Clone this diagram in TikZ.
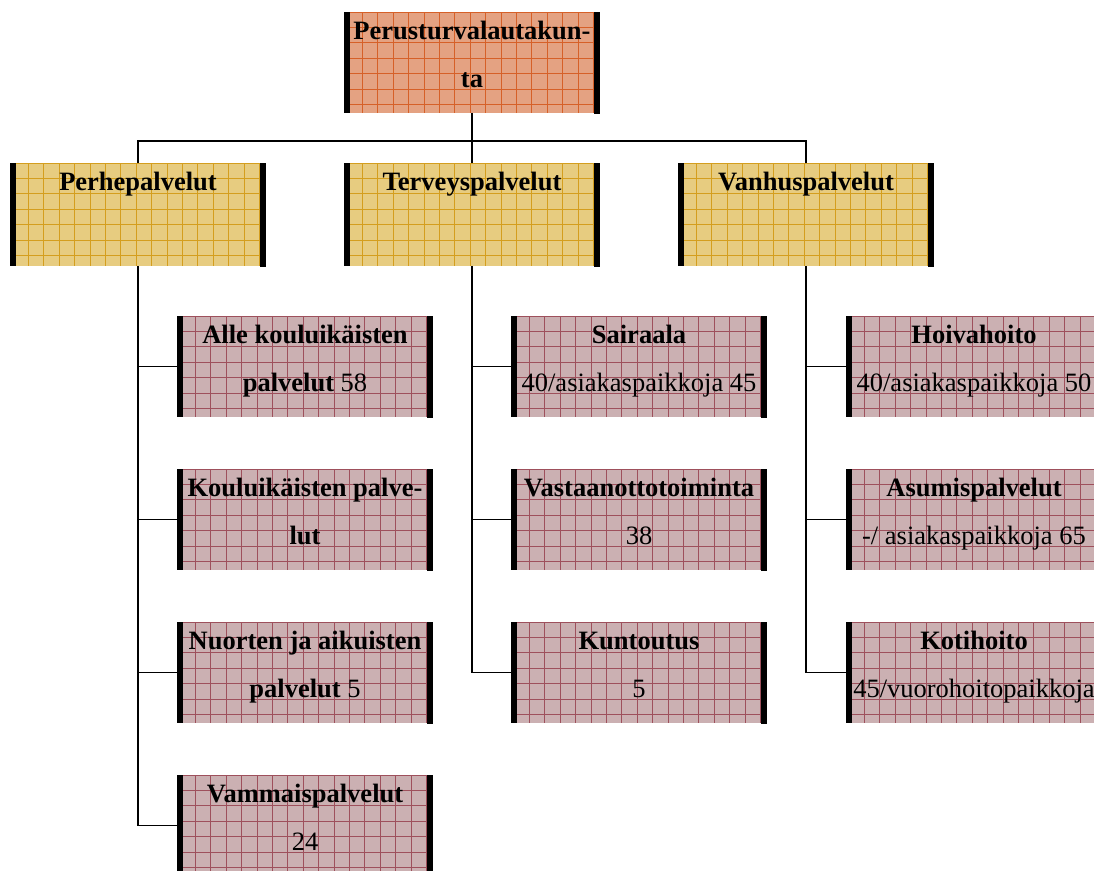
\documentclass[tikz,border=0pt]{standalone}
\usepackage{fontspec}
\setmainfont{Liberation Serif}
\usetikzlibrary{calc}

\definecolor{orgfill}{RGB}{228,162,130}
\definecolor{orgline}{RGB}{214,96,40}
\definecolor{yelfill}{RGB}{231,204,128}
\definecolor{yelline}{RGB}{212,158,30}
\definecolor{pinkfill}{RGB}{203,176,178}
\definecolor{pinkline}{RGB}{158,80,92}

\tikzset{
  % gridded box with heavy black side bars
  cell/.style 2 args={rectangle, draw=none, fill=#1,
    minimum width=256pt, minimum height=101pt, inner sep=0pt,
    path picture={
      \coordinate (nw) at (path picture bounding box.north west);
      \coordinate (sw) at (path picture bounding box.south west);
      \coordinate (ne) at (path picture bounding box.north east);
      \foreach \k in {0,...,16}
        \draw[#2, line width=0.7pt] ($(nw)+(3+\k*15.4,0)$) -- ($(sw)+(3+\k*15.4,0)$);
      \foreach \k in {0,...,7}
        \draw[#2, line width=0.7pt] ($(nw)+(0,\k*15.4)$) -- ($(ne)+(0,\k*15.4)$);
      \draw[black, line width=6pt] ($(nw)+(3,0)$) -- ($(sw)+(3,0)$)
                                   ($(ne)+(-3,0)$) -- ($(ne)+(-3,110)$);
    }},
  headbox/.style={cell={orgfill}{orgline}},
  unitbox/.style={cell={yelfill}{yelline}, minimum height=103pt},
  leafbox/.style={cell={pinkfill}{pinkline}},
  txt/.style={anchor=north, inner sep=0pt, align=center,
    font=\fontsize{26.5}{48}\selectfont},
  link/.style={draw=black, line width=1.8pt}
}

\newcommand{\topline}{\rule{0pt}{27pt}}

\begin{document}
\begin{tikzpicture}[x=1pt, y=-1pt]
\useasboundingbox (0,0) rectangle (1094,870);
\clip (0,0) rectangle (1094,870);

% top level
\node[headbox] (top) at (472,62.5) {};
\node[txt] (top-t) at (top.north) {\topline\textbf{Perusturvalautakun-}\\\textbf{ta}};

% service areas
\node[unitbox] (perhe) at (138,214.5) {};
\node[unitbox] (terveys) at (472,214.5) {};
\node[unitbox] (vanhus) at (806,214.5) {};
\node[txt] (perhe-t) at (perhe.north) {\topline\textbf{Perhepalvelut}};
\node[txt] (terveys-t) at (terveys.north) {\topline\textbf{Terveyspalvelut}};
\node[txt] (vanhus-t) at (vanhus.north) {\topline\textbf{Vanhuspalvelut}};

% family services
\node[leafbox] (alle) at (305,366.5) {};
\node[leafbox] (koulu) at (305,519.5) {};
\node[leafbox] (nuoret) at (305,672.5) {};
\node[leafbox] (vammais) at (305,825.5) {};
\node[txt] (alle-t) at (alle.north) {\topline\textbf{Alle kouluikäisten}\\\textbf{palvelut} 58};
\node[txt] (koulu-t) at (koulu.north) {\topline\textbf{Kouluikäisten palve-}\\\textbf{lut}};
\node[txt] (nuoret-t) at (nuoret.north) {\topline\textbf{Nuorten ja aikuisten}\\\textbf{palvelut} 5};
\node[txt] (vammais-t) at (vammais.north) {\topline\textbf{Vammaispalvelut}\\24};

% health services
\node[leafbox] (sairaala) at (639,366.5) {};
\node[leafbox] (vastaanotto) at (639,519.5) {};
\node[leafbox] (kuntoutus) at (639,672.5) {};
\node[txt] (sairaala-t) at (sairaala.north) {\topline\textbf{Sairaala}\\40/asiakaspaikkoja 45};
\node[txt] (vastaanotto-t) at (vastaanotto.north) {\topline\textbf{Vastaanottotoiminta}\\38};
\node[txt] (kuntoutus-t) at (kuntoutus.north) {\topline\textbf{Kuntoutus}\\5};

% elderly services
\node[leafbox] (hoiva) at (974,366.5) {};
\node[leafbox] (asumis) at (974,519.5) {};
\node[leafbox] (koti) at (974,672.5) {};
\node[txt] (hoiva-t) at (hoiva.north) {\topline\textbf{Hoivahoito}\\40/asiakaspaikkoja 50};
\node[txt] (asumis-t) at (asumis.north) {\topline\textbf{Asumispalvelut}\\-/ asiakaspaikkoja 65};
\node[txt] (koti-t) at (koti.north) {\topline\textbf{Kotihoito}\\45/vuorohoitopaikkoja};

% connectors
\coordinate (bus) at (472,141);
\draw[link] (top.south) -- (terveys.north);
\draw[link] (perhe.north) |- (bus) -| (vanhus.north);

\foreach \c in {alle,koulu,nuoret,vammais}
  \draw[link] (perhe.south) |- (\c.west);
\foreach \c in {sairaala,vastaanotto,kuntoutus}
  \draw[link] (terveys.south) |- (\c.west);
\foreach \c in {hoiva,asumis,koti}
  \draw[link] (vanhus.south) |- (\c.west);
\end{tikzpicture}
\end{document}
